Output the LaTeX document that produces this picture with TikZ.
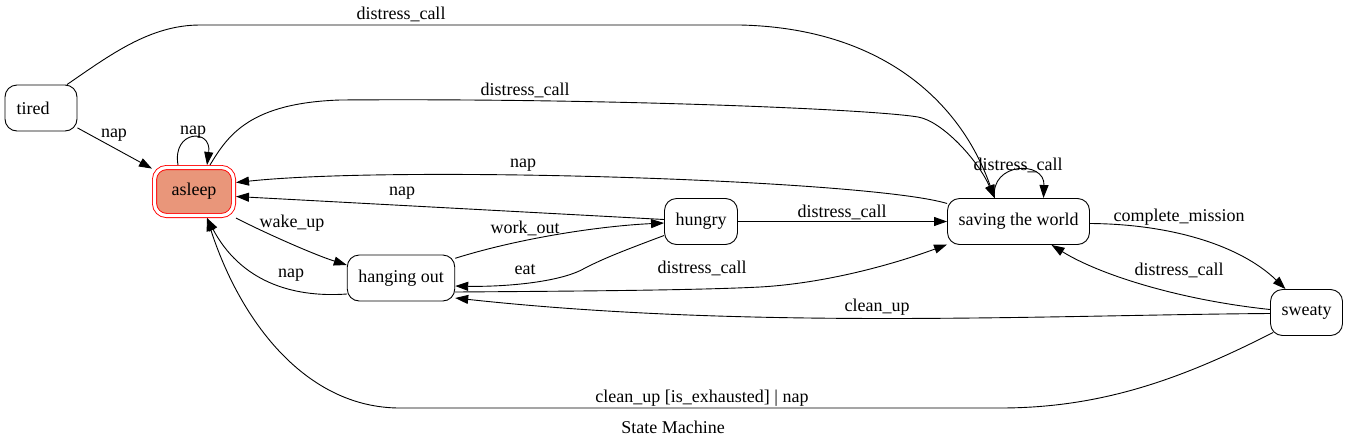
\documentclass[tikz,border=0pt]{standalone}
\usepackage{fontspec}
\setmainfont{Liberation Serif}
\usetikzlibrary{arrows.meta}
\definecolor{salmonfill}{HTML}{E9967A}
\tikzset{
  mstate/.style={draw, rounded corners=12pt, minimum width=72pt, minimum height=46pt, inner xsep=11pt},
  lbl/.style={inner sep=1pt}
}

\begin{document}
\begin{tikzpicture}[x=1pt, y=-1pt, line width=0.9pt, >={Triangle[length=13pt,width=9pt]}, font=\fontsize{18}{21}\selectfont]
      \useasboundingbox (0,0) rectangle (1348,445);
      \node [mstate] (tired) at (41,108) {tired\hspace{16pt}\mbox{}};
      \node [mstate, draw=red, double=white, double distance=3.2pt, fill=salmonfill, minimum width=79pt, minimum height=48pt, outer sep=2.5pt] (asleep) at (194,191.5) {asleep};
      \node [mstate] (hangout) at (401,278) {hanging out};
      \node [mstate] (hungry) at (701,221.5) {hungry};
      \node [mstate] (saving) at (1018.5,221.5) {saving the world};
      \node [mstate] (sweaty) at (1306.5,312.5) {sweaty};
      \node (title) at (673,427) {State Machine};

      \draw [->] ([xshift=26pt]tired.north) .. controls (110,55) and (150,25) .. (200,25) -- (740,25)
        .. controls (880,28) and (960,100) .. ([xshift=-24pt]saving.north)
        node [lbl] at (401,14) {distress\_call};
      \draw [->] (tired) -- (asleep) node [lbl] at (114,135) {nap};
      \draw [->] ([xshift=-16pt]asleep.north) .. controls (172,130) and (212,128) .. ([xshift=13pt]asleep.north)
        node [lbl] at (193,132) {nap};
      \draw [->] ([xshift=16pt]asleep.north) .. controls (228,135) and (250,103) .. (340,100)
        .. controls (600,98) and (870,109) .. (918,117)
        .. controls (942,121) and (978,160) .. ([xshift=-24pt]saving.north)
        node [lbl] at (525,90) {distress\_call};
      \draw [->] ([yshift=18pt]saving.west) .. controls (870,180) and (400,165) .. ([yshift=9pt]asleep.east)
        node [lbl] at (523,165) {nap};
      \draw [->] ([yshift=2pt]hungry.west) -- ([yshift=-5pt]asleep.east) node [lbl] at (402,193) {nap};
      \draw [->] (asleep.south east) .. controls (265,233) and (315,255) .. ([yshift=13pt]hangout.west)
        node [lbl] at (292,223) {wake\_up};
      \draw [->] ([yshift=-16pt]hangout.west) .. controls (290,298) and (240,280) .. ([xshift=13pt]asleep.south)
        node [lbl] at (291,275) {nap};
      \draw [->] (hangout.20) .. controls (520,238) and (600,226) .. ([yshift=-1.5pt]hungry.west)
        node [lbl] at (525,228) {work\_out};
      \draw [->] ([yshift=-14pt]hungry.west) .. controls (620,252) and (605,258) .. (585,268)
        .. controls (560,283) and (500,287) .. ([yshift=-8pt]hangout.east)
        node [lbl] at (525,270) {eat};
      \draw [->] ([yshift=-14pt]hangout.east) .. controls (600,291) and (700,290) .. (760,287)
        .. controls (830,283) and (900,262) .. ([yshift=-23pt]saving.west)
        node [lbl] at (702,268) {distress\_call};
      \draw [->] (hungry) -- (saving) node [lbl] at (842,212) {distress\_call};
      \draw [->] ([xshift=-24pt]saving.north) .. controls (990,162) and (1045,160) .. ([xshift=25pt]saving.north)
        node [lbl] at (1018,165) {distress\_call};
      \draw [->] ([yshift=-2pt]saving.east) .. controls (1170,224) and (1240,245) .. ([xshift=-21pt]sweaty.north)
        node [lbl] at (1179,217) {complete\_mission};
      \draw [->] ([yshift=3pt]sweaty.west) .. controls (1180,300) and (1100,275) .. ([xshift=33pt]saving.south)
        node [lbl] at (1179,270) {distress\_call};
      \draw [->] ([yshift=-1pt]sweaty.west) .. controls (1050,315) and (750,330) .. ([yshift=-20pt]hangout.east)
        node [lbl] at (877,307) {clean\_up};
      \draw [->] ([xshift=3pt,yshift=-20pt]sweaty.west) .. controls (1180,380) and (1100,408) .. (1000,408) -- (400,408)
        .. controls (305,408) and (240,320) .. ([xshift=13pt]asleep.south)
        node [lbl] at (702,398) {clean\_up [is\_exhausted] \textbar{} nap};
\end{tikzpicture}
\end{document}
